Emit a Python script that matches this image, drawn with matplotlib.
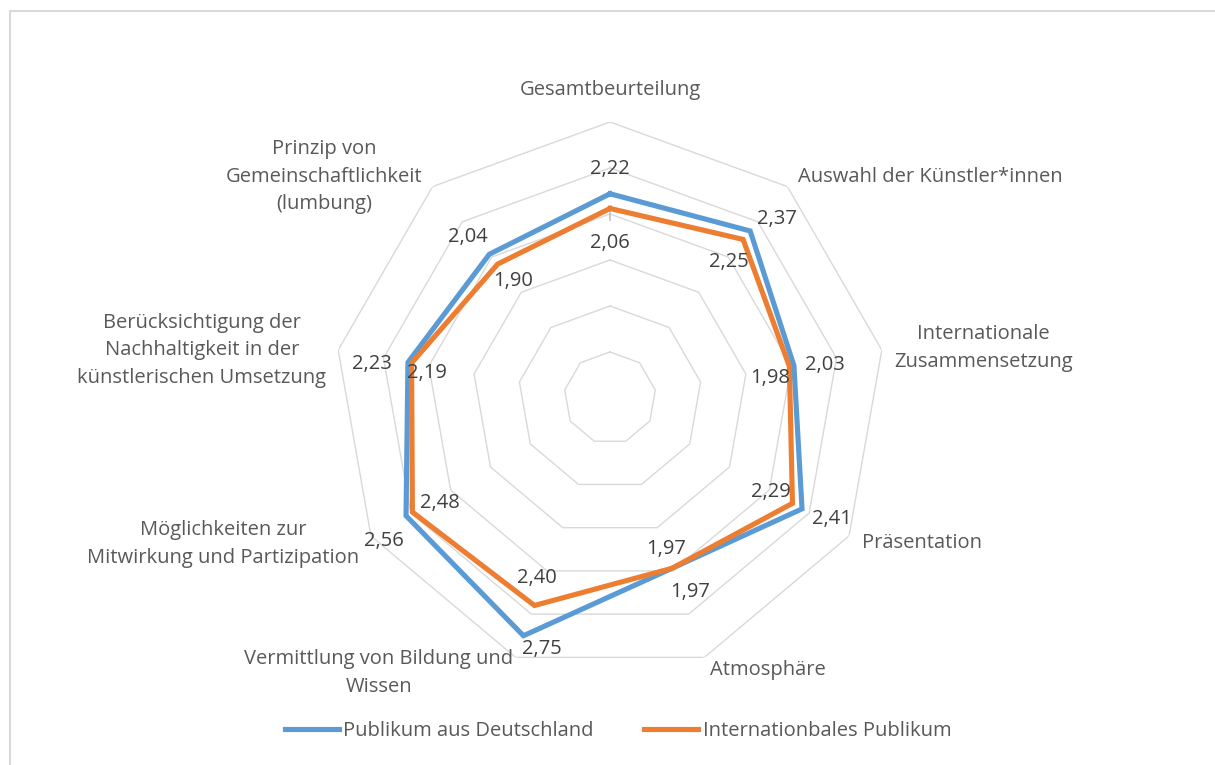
import numpy as np
import matplotlib.pyplot as plt
from matplotlib.patches import Rectangle

plt.rcParams['font.family'] = ['Open Sans', 'DejaVu Sans']

categories = ["Gesamtbeurteilung", "Auswahl der Künstler*innen",
              "Internationale\nZusammensetzung", "Präsentation", "Atmosphäre",
              "Vermittlung von Bildung und\nWissen",
              "Möglichkeiten zur\nMitwirkung und Partizipation",
              "Berücksichtigung der\nNachhaltigkeit in der\nkünstlerischen Umsetzung",
              "Prinzip von\nGemeinschaftlichkeit\n(lumbung)"]
deutschland = [2.22, 2.37, 2.03, 2.41, 1.97, 2.75, 2.56, 2.23, 2.04]
international = [2.06, 2.25, 1.98, 2.29, 1.97, 2.40, 2.48, 2.19, 1.90]
series_names = ["Publikum aus Deutschland", "Internationbales Publikum"]
rings = [0.5, 1.0, 1.5, 2.0, 2.5, 3.0]

blue = "#5B9BD5"
orange = "#ED7D31"
grey = "#D9D9D9"
txt = "#595959"
fs = 14.5

# label offsets in pixels (dx right, dy down), as Excel placed them
off_de = [(0, -25), (27, -12), (31, -1), (30, 10), (18, 24), (18, 13), (-22, 25), (-36, 2), (-21, -17)]
off_int = [(0, 35), (-14, 23), (-19, 12), (-22, -11), (-6, -19), (2, -27), (27, -9), (15, 10), (15, 17)]

n = len(categories)
theta = np.arange(n) * 2 * np.pi / n
theta_c = np.append(theta, theta[0])

fig = plt.figure(figsize=(12.15, 7.65), dpi=100)
fig.patches.append(Rectangle((10 / 1215, -0.1), 1.2, 1 - 11 / 765 + 0.1,
                             transform=fig.transFigure, fill=False,
                             edgecolor=grey, lw=1.5))

ax = fig.add_axes([334 / 1215, 91 / 765, 552 / 1215, 552 / 765], projection='polar')
ax.set_theta_zero_location('N')
ax.set_theta_direction(-1)
ax.set_ylim(0, 3)
ax.grid(False)
ax.spines['polar'].set_visible(False)
ax.set_xticks([])
ax.set_yticks([])
ax.patch.set_alpha(0)

for r in rings:
    ax.plot(theta_c, [r] * (n + 1), color=grey, lw=1.0, zorder=1)
ax.plot([0, 0], [1.93, 2.07], color="#BFBFBF", lw=1.2, zorder=1)

ax.plot(theta_c, deutschland + deutschland[:1], color=blue, lw=3.7, zorder=3,
        solid_joinstyle='miter', label=series_names[0])
ax.plot(theta_c, international + international[:1], color=orange, lw=3.7, zorder=4,
        solid_joinstyle='miter', label=series_names[1])

for vals, offs in [(deutschland, off_de), (international, off_int)]:
    for t, v, (dx, dy) in zip(theta, vals, offs):
        ax.annotate(f"{v:.2f}".replace(".", ","), (t, v),
                    xytext=(dx, -dy), textcoords='offset pixels',
                    ha='center', va='center', fontsize=fs, color="#404040", zorder=5)

# category labels: (radius, ha, va, dx, dy) with pixel nudges
label_pos = [
    (3.0, 'center', 'bottom', 0, -22),
    (3.0, 'left', 'center', 11, -10),
    (3.0, 'left', 'center', 12, -2),
    (3.0, 'left', 'center', 13, 7),
    (3.0, 'left', 'top', 6, 3),
    (3.0, 'right', 'top', -2, -8),
    (3.0, 'right', 'center', -12, 8),
    (3.0, 'right', 'center', -12, 0),
    (3.0, 'right', 'center', -10, -10),
]
for t, lab, (r, ha, va, dx, dy) in zip(theta, categories, label_pos):
    ax.annotate(lab, (t, r), xytext=(dx, -dy), textcoords='offset pixels',
                ha=ha, va=va, multialignment='center', fontsize=fs,
                linespacing=1.5, color=txt, annotation_clip=False)

fig.legend(loc='center', bbox_to_anchor=(618 / 1215, 1 - 731 / 765), ncol=2,
           frameon=False, fontsize=fs, handlelength=2.7, handletextpad=0.2,
           columnspacing=2.5, labelcolor=txt)

fig.savefig("out.png", dpi=100)
